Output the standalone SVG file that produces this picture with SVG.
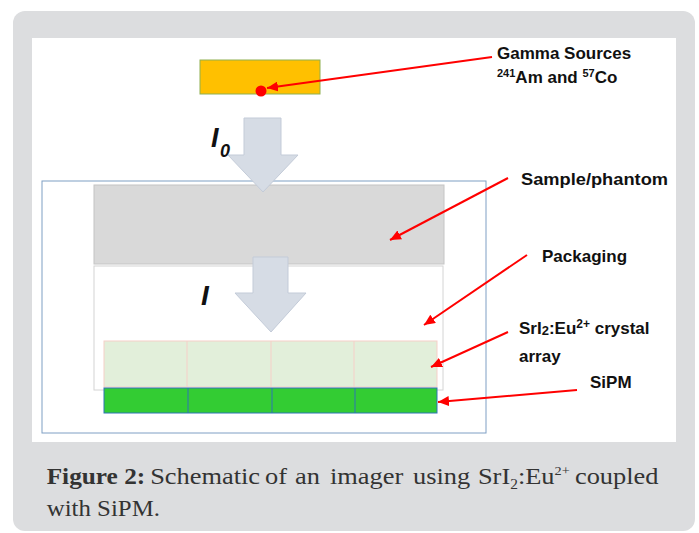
<svg xmlns="http://www.w3.org/2000/svg" width="699" height="533" viewBox="0 0 699 533">
<style>
.lbl{font-family:"Liberation Sans",Arial,sans-serif;font-weight:bold;font-size:17px;fill:#111}
.cap{font-family:"Liberation Serif","Times New Roman",serif;font-size:24px;fill:#333}
.ital{font-family:"Liberation Sans",Arial,sans-serif;font-weight:bold;font-style:italic;fill:#111}
.red{stroke:#ff0000;stroke-width:2;fill:none;marker-end:url(#ah)}
.blk{fill:#d6dce5;stroke:#c3cbd8;stroke-width:1}
</style>
<defs>
<marker id="ah" markerUnits="userSpaceOnUse" markerWidth="12" markerHeight="10" refX="11" refY="5" orient="auto">
<path d="M0,0 L11,5 L0,10 z" fill="#ff0000"/>
</marker>
</defs>
<rect x="0" y="0" width="699" height="533" fill="#ffffff"/>
<rect id="panel" x="13" y="11" width="682" height="520" rx="12" fill="#dcdddf"/>
<rect x="32" y="38" width="644" height="404" fill="#ffffff"/>

<g id="imager-box"><rect x="42" y="181" width="444" height="252" fill="none" stroke="#7f9fc4" stroke-width="1"/></g>
<g id="source"><rect x="200" y="60" width="120" height="34" fill="#ffc000" stroke="#8fb050" stroke-width="1"/></g>
<g id="sample"><rect x="94" y="185" width="350" height="79" fill="#d9d9d9" stroke="#c4c4c4" stroke-width="1"/></g>
<g id="packaging"><rect x="94" y="266" width="349" height="124" fill="#ffffff" stroke="#d4d4d4" stroke-width="1"/></g>
<g id="crystal-array">
<rect x="104" y="341" width="333" height="46" fill="#e2efda" stroke="#f6cfc8" stroke-width="1"/>
<path d="M187,341V387M271,341V387M354,341V387" stroke="#f6cfc8" stroke-width="1"/>
</g>
<g id="sipm">
<rect x="104" y="388" width="333" height="25" fill="#33cc33" stroke="#2e75b6" stroke-width="1"/>
<path d="M188,388V413M272,388V413M355,388V413" stroke="#2e75b6" stroke-width="1"/>
</g>
<g id="beam-I0">
<polygon class="blk" points="244,118 281,118 281,155 298,155 263,192 228,155 244,155"/>
<text class="ital" x="211" y="147" font-size="27">I</text>
<text class="ital" x="220" y="157" font-size="18">0</text>
</g>
<g id="beam-I">
<polygon class="blk" points="253,257 288,257 288,293 306,293 271,332 235,293 253,293"/>
<text class="ital" x="201" y="305" font-size="28">I</text>
</g>
<g id="source-dot"><circle cx="261" cy="91" r="5.5" fill="#ff0000"/></g>

<g id="connectors">
<line class="red" x1="492" y1="57" x2="267" y2="88"/>
<line class="red" x1="508" y1="178" x2="390" y2="240"/>
<line class="red" x1="527" y1="255" x2="424" y2="325"/>
<line class="red" x1="508" y1="332" x2="431" y2="367"/>
<line class="red" x1="577" y1="390" x2="438" y2="402"/>
</g>

<g id="labels">
<text class="lbl" x="497" y="59">Gamma Sources</text>
<text class="lbl" x="497" y="83"><tspan font-size="11" dy="-6">241</tspan><tspan dy="6">Am and </tspan><tspan font-size="11" dy="-6">57</tspan><tspan dy="6">Co</tspan></text>
<text class="lbl" x="521" y="185" textLength="147" lengthAdjust="spacingAndGlyphs">Sample/phantom</text>
<text class="lbl" x="542" y="262">Packaging</text>
<text class="lbl" x="519" y="334">SrI<tspan font-size="13" dy="1">2</tspan><tspan dy="-1">:Eu</tspan><tspan font-size="12" dy="-6">2+</tspan><tspan dy="6"> crystal</tspan></text>
<text class="lbl" x="519" y="362">array</text>
<text class="lbl" x="590" y="388">SiPM</text>
</g>

<g id="caption" transform="scale(1.1,1)">
<text class="cap" y="484"><tspan x="42.45" font-weight="bold" font-size="23">Figure 2:</tspan><tspan x="136.5">Schematic</tspan><tspan x="240.9">of</tspan><tspan x="268.2">an</tspan><tspan x="300">imager</tspan><tspan x="375.5">using</tspan><tspan x="434.5">SrI</tspan><tspan font-size="14" dy="5">2</tspan><tspan dy="-5">:Eu</tspan><tspan font-size="13" dy="-9">2+</tspan><tspan x="522.7" dy="9">coupled</tspan></text>
<text class="cap" x="42.45" y="516" textLength="103" lengthAdjust="spacingAndGlyphs">with SiPM.</text>
</g>
</svg>
